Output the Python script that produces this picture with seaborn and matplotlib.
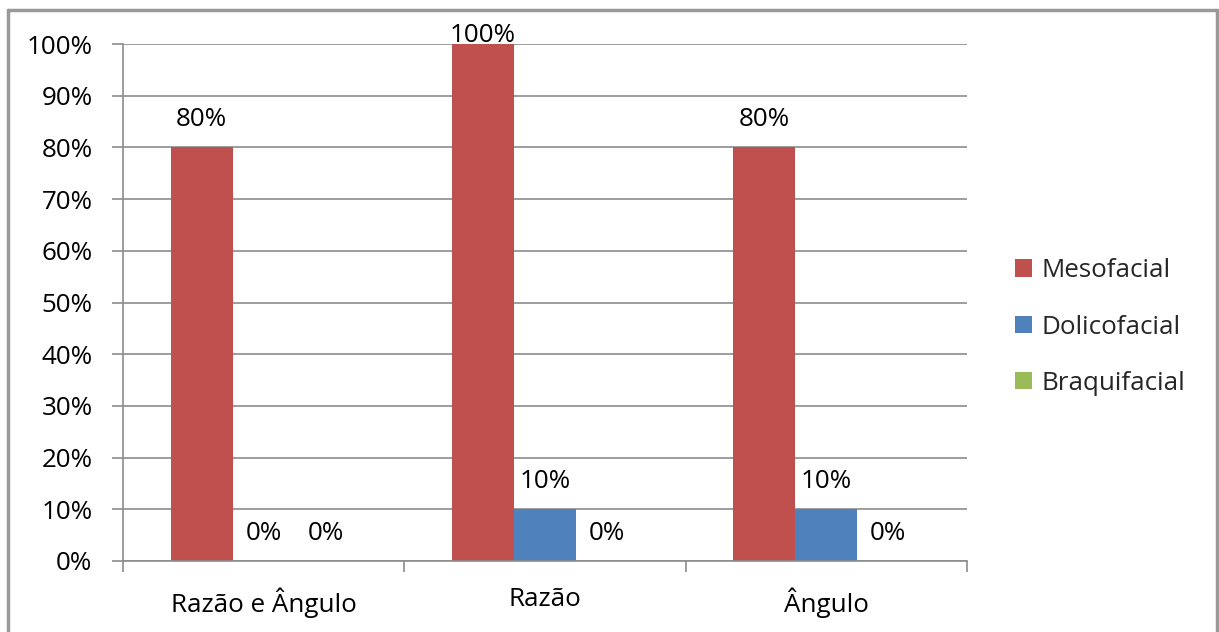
import matplotlib
matplotlib.use("Agg")
import matplotlib.pyplot as plt
from matplotlib.lines import Line2D
from matplotlib.ticker import PercentFormatter, FixedLocator
import seaborn as sns
import pandas as pd

# Classification results per method (share of the sample)
categorias = ["Razão e Ângulo", "Razão", "Ângulo"]
tipos = ["Mesofacial", "Dolicofacial", "Braquifacial"]
mesofacial = [0.80, 1.00, 0.80]
dolicofacial = [0.00, 0.10, 0.10]
braquifacial = [0.00, 0.00, 0.00]
cores = ["#C0504D", "#4F81BD", "#9BBB59"]

linhas = []
for tipo, serie in zip(tipos, [mesofacial, dolicofacial, braquifacial]):
    for cat, v in zip(categorias, serie):
        linhas.append({"categoria": cat, "tipo": tipo, "valor": v})
df = pd.DataFrame(linhas)

sns.set_theme(style="white")
plt.rcParams["font.family"] = ["Open Sans", "DejaVu Sans"]
FS = 18.7
GRID = "#8c8c8c"

W, H, DPI = 1219, 632, 100
fig = plt.figure(figsize=(W / DPI, H / DPI), dpi=DPI)
ax = fig.add_axes([123 / W, 1 - 561 / H, (967 - 123) / W, (561 - 44) / H])

sns.barplot(data=df, x="categoria", y="valor", hue="tipo", order=categorias,
            hue_order=tipos, palette=cores, saturation=1, width=0.66,
            errorbar=None, linewidth=0, ax=ax)

ax.set_ylim(0, 1.0)
ax.set_xlim(-0.5, len(categorias) - 0.5)
ax.set_yticks([i / 10 for i in range(11)])
ax.yaxis.set_major_formatter(PercentFormatter(1.0, decimals=0))
ax.set_xlabel("")
ax.set_ylabel("")

ax.grid(axis="y", color=GRID, linewidth=1.2)
ax.set_axisbelow(True)
for s in ["top", "right"]:
    ax.spines[s].set_visible(False)
for s in ["left", "bottom"]:
    ax.spines[s].set_color(GRID)
    ax.spines[s].set_linewidth(1.2)

ax.tick_params(axis="y", direction="out", length=8, width=1.2, color=GRID,
               pad=14, labelsize=FS, labelcolor="#000000", left=True)
ax.tick_params(axis="x", which="major", length=0, pad=19, labelsize=FS,
               labelcolor="#000000")
ax.xaxis.set_minor_locator(FixedLocator([i - 0.5 for i in range(len(categorias) + 1)]))
ax.tick_params(axis="x", which="minor", direction="out", length=8, width=1.2,
               color=GRID, bottom=True)

# Value labels above each bar; labels near the top are pulled inside the plot
px_per_unit = (561 - 44) / 1.0
for cont, serie in zip(ax.containers, [mesofacial, dolicofacial, braquifacial]):
    for bar, v in zip(cont, serie):
        gap_px = (1.0 - v) * px_per_unit
        off_px = min(28, 8 + gap_px)
        ax.annotate(f"{v * 100:.0f}%", (bar.get_x() + bar.get_width() / 2, v),
                    xytext=(0, off_px * 72 / DPI), textcoords="offset points",
                    ha="center", va="center", fontsize=FS, color="#000000",
                    annotation_clip=False)

ax.legend(loc="center left", bbox_to_anchor=(1015 / W, 1 - 327 / H),
          bbox_transform=fig.transFigure, frameon=False, fontsize=FS,
          handlelength=0.66, handleheight=0.66, handletextpad=0.35,
          labelspacing=1.2, borderaxespad=0, borderpad=0)

# Outer chart frame
for xs, ys in [([8, 8], [632, 10]), ([8, 1217], [10, 10]), ([1217, 1217], [10, 632])]:
    fig.add_artist(Line2D([x / W for x in xs], [1 - y / H for y in ys],
                          transform=fig.transFigure, color="#999999", linewidth=2.5))

fig.savefig("out.png", dpi=DPI)
